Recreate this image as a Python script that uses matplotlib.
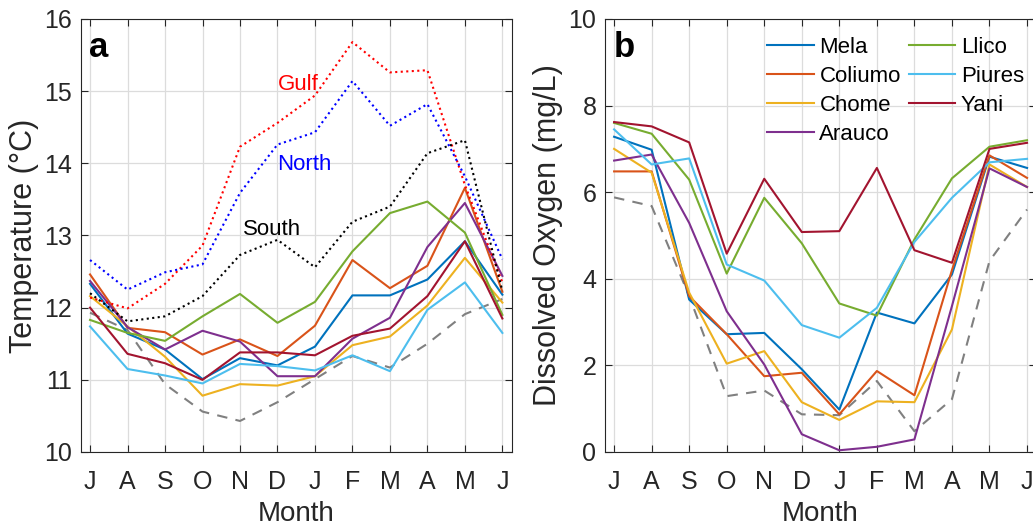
import numpy as np
import matplotlib.pyplot as plt

plt.rcParams['font.family'] = ['Liberation Sans', 'DejaVu Sans']

months = ['J', 'A', 'S', 'O', 'N', 'D', 'J', 'F', 'M', 'A', 'M', 'J']
sites = ['Mela', 'Coliumo', 'Chome', 'Arauco', 'Llico', 'Piures', 'Yani']
site_colors = ['#0072BD', '#D95319', '#EDB120', '#7E2F8E', '#77AC30', '#4DBEEE', '#A2142F']

# Temperature (degC), Jul..Jun
temp_mela    = [12.33, 11.64, 11.42, 11.01, 11.30, 11.20, 11.46, 12.17, 12.17, 12.39, 12.92, 12.18]
temp_coliumo = [12.46, 11.72, 11.66, 11.35, 11.56, 11.33, 11.75, 12.66, 12.27, 12.58, 13.66, 12.22]
temp_chome   = [12.16, 11.74, 11.32, 10.78, 10.94, 10.92, 11.05, 11.48, 11.60, 12.03, 12.69, 12.07]
temp_arauco  = [12.37, 11.73, 11.42, 11.68, 11.53, 11.05, 11.05, 11.57, 11.86, 12.84, 13.45, 12.44]
temp_llico   = [11.83, 11.65, 11.54, 11.88, 12.19, 11.79, 12.08, 12.78, 13.31, 13.47, 13.04, 11.90]
temp_piures  = [11.74, 11.15, 11.06, 10.95, 11.22, 11.19, 11.13, 11.34, 11.12, 11.97, 12.35, 11.65]
temp_yani    = [12.00, 11.36, 11.23, 11.00, 11.38, 11.38, 11.34, 11.61, 11.71, 12.16, 12.92, 11.85]
temp_sites = [temp_mela, temp_coliumo, temp_chome, temp_arauco, temp_llico, temp_piures, temp_yani]

temp_gulf  = [12.14, 11.99, 12.33, 12.86, 14.23, 14.56, 14.94, 15.68, 15.26, 15.29, 13.70, 12.35]
temp_north = [12.66, 12.25, 12.49, 12.60, 13.59, 14.26, 14.43, 15.14, 14.52, 14.82, 13.82, 12.67]
temp_south = [12.20, 11.81, 11.88, 12.16, 12.73, 12.94, 12.56, 13.19, 13.40, 14.14, 14.32, 12.23]
temp_ref   = [11.93, 11.69, 10.94, 10.56, 10.43, 10.69, 11.01, 11.33, 11.17, 11.50, 11.91, 12.12]

# Dissolved oxygen (mg/L), Jul..Jun
do_mela    = [7.28, 6.98, 3.52, 2.72, 2.75, 1.91, 0.98, 3.22, 2.97, 4.10, 6.82, 6.56]
do_coliumo = [6.48, 6.48, 3.60, 2.72, 1.75, 1.83, 0.87, 1.87, 1.31, 4.20, 6.85, 6.33]
do_chome   = [7.00, 6.45, 3.68, 2.04, 2.33, 1.15, 0.74, 1.17, 1.15, 2.83, 6.64, 6.12]
do_arauco  = [6.73, 6.87, 5.29, 3.25, 2.02, 0.41, 0.04, 0.12, 0.29, 3.37, 6.55, 6.12]
do_llico   = [7.60, 7.35, 6.29, 4.12, 5.87, 4.82, 3.43, 3.15, 4.91, 6.32, 7.05, 7.20]
do_piures  = [7.45, 6.64, 6.78, 4.33, 3.96, 2.93, 2.64, 3.33, 4.85, 5.87, 6.69, 6.77]
do_yani    = [7.62, 7.52, 7.15, 4.58, 6.31, 5.08, 5.10, 6.56, 4.66, 4.37, 7.00, 7.14]
do_sites = [do_mela, do_coliumo, do_chome, do_arauco, do_llico, do_piures, do_yani]
do_ref     = [5.88, 5.68, 3.60, 1.29, 1.42, 0.87, 0.85, 1.64, 0.48, 1.22, 4.41, 5.60]

x = np.arange(1, 13)
fs = 18
dark = '#262626'

fig = plt.figure(figsize=(10.33, 5.26), dpi=100)
ax0 = fig.add_axes([0.0781, 0.1407, 0.4173, 0.8232])
ax1 = fig.add_axes([0.5854, 0.1407, 0.4179, 0.8232])

def style(ax, ylim, yticks):
    ax.set_xlim(0.75, 12.25)
    ax.set_ylim(*ylim)
    ax.set_xticks(x)
    ax.set_xticklabels(months)
    ax.set_yticks(yticks)
    ax.grid(True, color='#dcdcdc', lw=0.9)
    ax.set_axisbelow(True)
    ax.tick_params(direction='in', top=True, right=True, labelsize=fs,
                   colors=dark, length=5, width=0.8)
    ax.tick_params(axis='y', pad=6)
    ax.tick_params(axis='x', pad=13)
    for s in ax.spines.values():
        s.set_color(dark)
        s.set_linewidth(0.8)
    ax.set_xlabel('Month', fontsize=20, color=dark, labelpad=5)

# panel a
ax0.plot(x, temp_ref, '--', color='#808080', lw=1.5, dashes=(5, 4))
for vals, c in zip(temp_sites, site_colors):
    ax0.plot(x, vals, color=c, lw=1.5)
ax0.plot(x, temp_gulf, ':', color='#ff0000', lw=1.5)
ax0.plot(x, temp_north, ':', color='#0000ff', lw=1.5)
ax0.plot(x, temp_south, ':', color='#000000', lw=1.5)
style(ax0, (10, 16), np.arange(10, 17))
ax0.set_ylabel('Temperature (°C)', fontsize=22, color=dark, labelpad=4)
ax0.text(6.55, 15.09, 'Gulf', color='#ff0000', fontsize=16, ha='center', va='center')
ax0.text(6.71, 13.98, 'North', color='#0000ff', fontsize=16, ha='center', va='center')
ax0.text(5.85, 13.08, 'South', color='#000000', fontsize=16, ha='center', va='center')
ax0.text(0.02, 0.935, 'a', transform=ax0.transAxes, fontsize=25,
         fontweight='bold', va='center')

# panel b
ax1.plot(x, do_ref, '--', color='#808080', lw=1.5, dashes=(5, 4))
for vals, c, name in zip(do_sites, site_colors, sites):
    ax1.plot(x, vals, color=c, lw=1.5, label=name)
style(ax1, (0, 10), np.arange(0, 11, 2))
ax1.set_ylabel('Dissolved Oxygen (mg/L)', fontsize=22, color=dark, labelpad=4)
ax1.text(0.02, 0.935, 'b', transform=ax1.transAxes, fontsize=25,
         fontweight='bold', va='center')
handles, labels = ax1.get_legend_handles_labels()
ax1.legend(handles, labels, ncol=2, frameon=False, fontsize=16,
           loc='upper left', bbox_to_anchor=(0.33, 1.005),
           handlelength=2.1, handletextpad=0.25, columnspacing=0.35,
           labelspacing=0.36)

fig.savefig('out.png', dpi=100)
